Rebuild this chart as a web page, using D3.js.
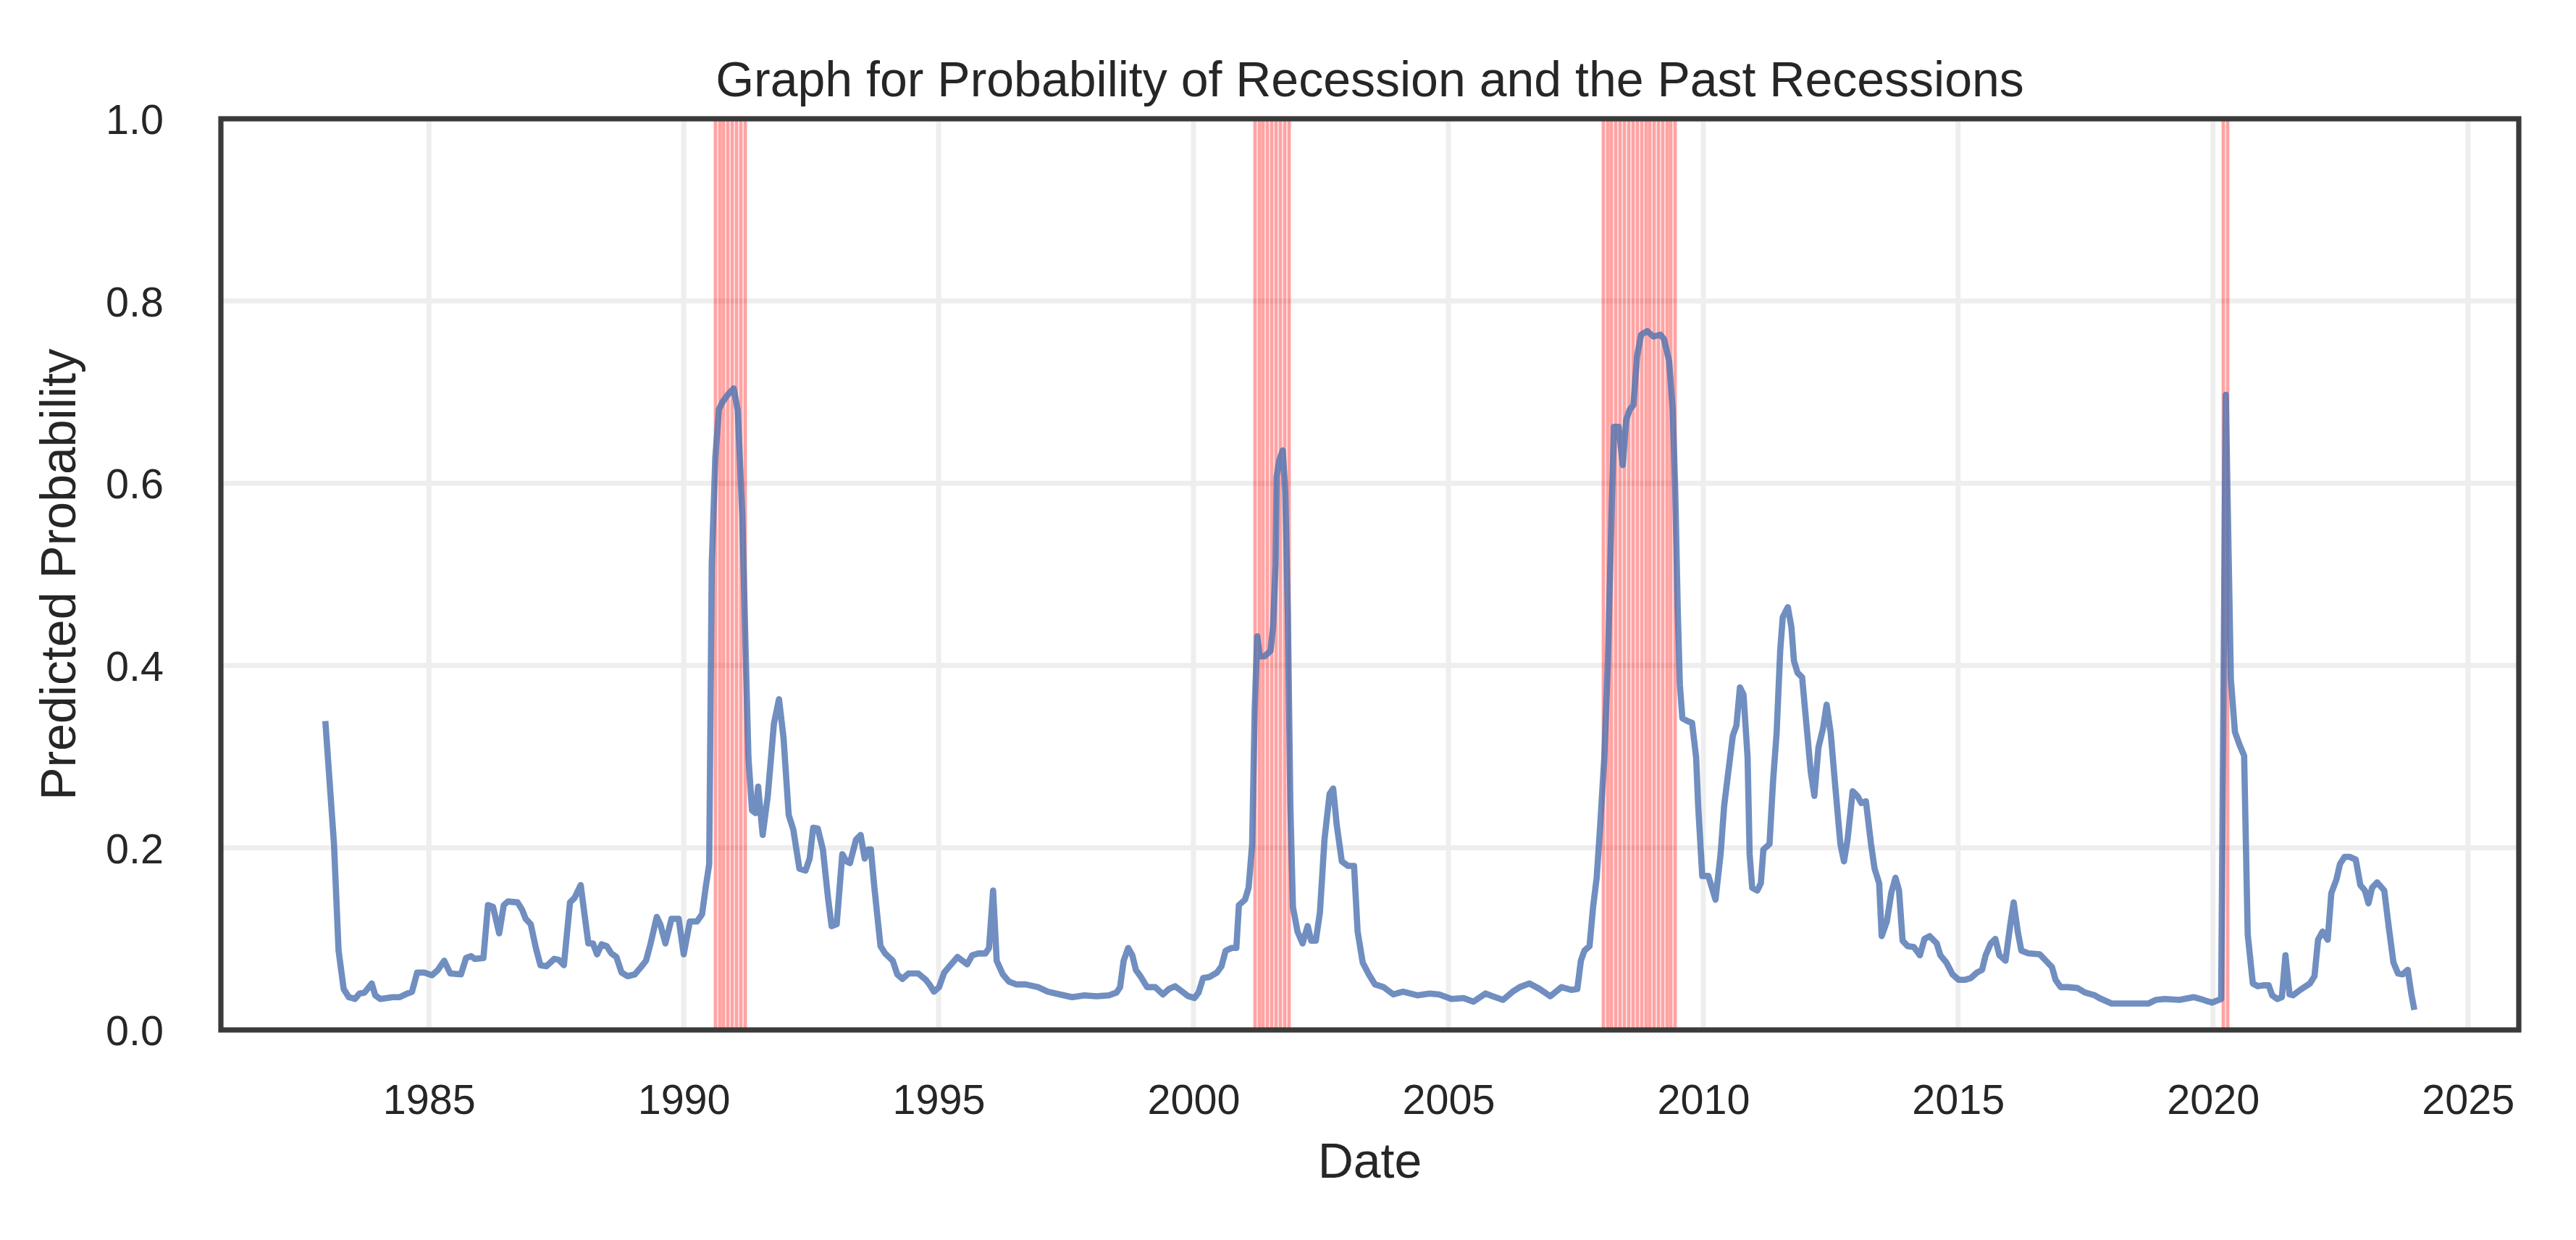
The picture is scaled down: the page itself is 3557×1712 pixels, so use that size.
<!DOCTYPE html>
<html>
<head>
<meta charset="utf-8">
<script src="https://cdn.jsdelivr.net/npm/d3@7"></script>
<style>
  html, body { margin: 0; padding: 0; background: #ffffff; }
  svg { display: block; }
  text { font-family: "Liberation Sans", Arial, Helvetica, sans-serif; fill: #262626; }
</style>
</head>
<body>
<svg id="chart" width="3557" height="1712"></svg>
<script>
// ---------------- DATA ----------------
// Decimal years (time) of the predicted-probability series
const probYears = [
  1982.97,1983.14,1983.23,1983.33,1983.43,1983.55,1983.64,1983.74,1983.88,1983.95,
  1984.05,1984.29,1984.43,1984.58,1984.67,1984.77,1984.91,1985.06,1985.18,1985.30,
  1985.42,1985.63,1985.73,1985.83,1985.90,1986.07,1986.16,1986.26,1986.38,1986.47,
  1986.55,1986.74,1986.83,1986.90,1987.00,1987.10,1987.19,1987.31,1987.46,1987.55,
  1987.65,1987.77,1987.86,1987.98,1988.08,1988.13,1988.22,1988.30,1988.39,1988.49,
  1988.58,1988.68,1988.78,1988.90,1989.04,1989.16,1989.26,1989.35,1989.47,1989.54,
  1989.64,1989.76,1989.90,1990.00,1990.12,1990.26,1990.36,1990.43,1990.50,1990.55,
  1990.62,1990.69,1990.76,1990.86,1990.98,1991.06,1991.15,1991.22,1991.27,1991.34,
  1991.41,1991.46,1991.55,1991.65,1991.77,1991.87,1991.96,1992.06,1992.15,1992.27,
  1992.39,1992.47,1992.54,1992.63,1992.73,1992.83,1992.90,1993.00,1993.11,1993.19,
  1993.26,1993.38,1993.47,1993.55,1993.62,1993.67,1993.74,1993.86,1993.95,1994.10,
  1994.19,1994.29,1994.41,1994.60,1994.75,1994.82,1994.91,1995.01,1995.11,1995.23,
  1995.37,1995.47,1995.56,1995.66,1995.78,1995.92,1995.99,1996.07,1996.14,1996.26,
  1996.38,1996.52,1996.71,1996.95,1997.14,1997.38,1997.62,1997.86,1998.10,1998.34,
  1998.49,1998.56,1998.63,1998.72,1998.80,1998.87,1998.97,1999.09,1999.25,1999.40,
  1999.52,1999.64,1999.78,1999.90,2000.02,2000.10,2000.19,2000.31,2000.46,2000.55,
  2000.63,2000.75,2000.84,2000.89,2001.01,2001.08,2001.15,2001.20,2001.25,2001.30,
  2001.39,2001.51,2001.56,2001.61,2001.63,2001.68,2001.75,2001.80,2001.85,2001.90,
  2001.95,2002.04,2002.14,2002.24,2002.31,2002.40,2002.48,2002.57,2002.67,2002.74,
  2002.81,2002.91,2003.03,2003.15,2003.22,2003.32,2003.44,2003.56,2003.73,2003.92,
  2004.11,2004.39,2004.63,2004.82,2005.06,2005.30,2005.49,2005.73,2005.87,2006.07,
  2006.26,2006.40,2006.59,2006.79,2007.00,2007.22,2007.41,2007.53,2007.60,2007.67,
  2007.77,2007.84,2007.91,2007.98,2008.06,2008.13,2008.20,2008.25,2008.34,2008.42,
  2008.49,2008.56,2008.63,2008.70,2008.78,2008.90,2009.02,2009.16,2009.23,2009.33,
  2009.40,2009.45,2009.50,2009.54,2009.59,2009.69,2009.78,2009.86,2009.90,2009.98,
  2010.10,2010.17,2010.24,2010.34,2010.41,2010.48,2010.58,2010.65,2010.72,2010.79,
  2010.87,2010.91,2010.96,2011.06,2011.13,2011.18,2011.30,2011.37,2011.44,2011.51,
  2011.56,2011.66,2011.73,2011.78,2011.85,2011.94,2012.04,2012.11,2012.18,2012.26,
  2012.35,2012.42,2012.50,2012.59,2012.69,2012.76,2012.83,2012.93,2013.02,2013.10,
  2013.19,2013.29,2013.36,2013.45,2013.50,2013.60,2013.69,2013.77,2013.84,2013.91,
  2014.01,2014.13,2014.25,2014.34,2014.44,2014.58,2014.65,2014.77,2014.89,2015.01,
  2015.13,2015.25,2015.37,2015.47,2015.54,2015.64,2015.73,2015.81,2015.93,2016.02,
  2016.09,2016.17,2016.24,2016.38,2016.60,2016.72,2016.84,2016.91,2017.01,2017.15,
  2017.34,2017.49,2017.68,2017.77,2018.01,2018.21,2018.40,2018.59,2018.73,2018.88,
  2019.05,2019.34,2019.62,2019.81,2019.98,2020.16,2020.25,2020.35,2020.43,2020.52,
  2020.61,2020.68,2020.78,2020.88,2021.00,2021.09,2021.16,2021.26,2021.35,2021.42,
  2021.50,2021.57,2021.71,2021.90,2021.99,2022.06,2022.15,2022.25,2022.32,2022.42,
  2022.49,2022.58,2022.68,2022.80,2022.89,2022.98,2023.05,2023.12,2023.22,2023.36,
  2023.45,2023.54,2023.63,2023.72,2023.82,2023.89,2023.95
];
// Predicted probability of recession
const probValues = [
  0.339,0.204,0.087,0.045,0.036,0.034,0.040,0.041,0.051,0.038,
  0.034,0.036,0.036,0.040,0.042,0.063,0.063,0.060,0.066,0.076,
  0.062,0.061,0.079,0.081,0.078,0.079,0.137,0.135,0.106,0.137,
  0.141,0.140,0.132,0.122,0.116,0.090,0.071,0.070,0.078,0.077,
  0.071,0.140,0.145,0.159,0.116,0.095,0.095,0.083,0.094,0.092,
  0.084,0.080,0.063,0.059,0.061,0.069,0.076,0.095,0.124,0.116,
  0.095,0.122,0.122,0.083,0.119,0.119,0.127,0.156,0.182,0.511,
  0.628,0.681,0.689,0.697,0.704,0.680,0.564,0.405,0.299,0.241,
  0.238,0.267,0.214,0.257,0.336,0.363,0.320,0.236,0.220,0.177,
  0.175,0.188,0.222,0.221,0.198,0.145,0.114,0.116,0.193,0.185,
  0.183,0.209,0.214,0.188,0.198,0.198,0.156,0.092,0.084,0.076,
  0.061,0.056,0.062,0.062,0.055,0.050,0.042,0.047,0.063,0.071,
  0.080,0.076,0.072,0.082,0.084,0.084,0.090,0.153,0.076,0.061,
  0.053,0.050,0.050,0.047,0.042,0.039,0.036,0.038,0.037,0.038,
  0.041,0.047,0.076,0.090,0.082,0.066,0.058,0.047,0.047,0.039,
  0.045,0.048,0.042,0.037,0.035,0.041,0.057,0.058,0.063,0.070,
  0.087,0.090,0.090,0.137,0.143,0.156,0.204,0.352,0.432,0.410,
  0.410,0.416,0.442,0.511,0.607,0.625,0.636,0.591,0.458,0.246,
  0.135,0.108,0.095,0.114,0.098,0.098,0.129,0.209,0.259,0.265,
  0.225,0.185,0.180,0.180,0.108,0.074,0.061,0.050,0.047,0.039,
  0.042,0.038,0.040,0.039,0.034,0.035,0.031,0.040,0.037,0.033,
  0.042,0.047,0.051,0.045,0.037,0.047,0.044,0.045,0.076,0.087,
  0.092,0.135,0.167,0.225,0.299,0.405,0.564,0.662,0.662,0.620,
  0.670,0.681,0.686,0.739,0.763,0.767,0.761,0.763,0.758,0.734,
  0.681,0.591,0.458,0.379,0.342,0.339,0.337,0.299,0.246,0.169,
  0.169,0.156,0.143,0.193,0.246,0.278,0.323,0.334,0.376,0.368,
  0.299,0.193,0.156,0.153,0.161,0.198,0.204,0.273,0.326,0.416,
  0.453,0.464,0.442,0.405,0.392,0.387,0.326,0.283,0.257,0.310,
  0.331,0.357,0.326,0.267,0.204,0.185,0.209,0.262,0.257,0.249,
  0.251,0.204,0.177,0.161,0.103,0.119,0.151,0.167,0.153,0.098,
  0.092,0.091,0.082,0.100,0.103,0.095,0.082,0.074,0.061,0.055,
  0.055,0.057,0.063,0.066,0.082,0.095,0.100,0.082,0.076,0.114,
  0.140,0.108,0.087,0.084,0.083,0.076,0.069,0.055,0.047,0.047,
  0.046,0.041,0.038,0.035,0.029,0.029,0.029,0.029,0.029,0.033,
  0.034,0.033,0.036,0.033,0.030,0.034,0.697,0.385,0.327,0.313,
  0.301,0.105,0.051,0.048,0.049,0.049,0.038,0.034,0.036,0.082,
  0.039,0.038,0.044,0.051,0.059,0.099,0.108,0.099,0.150,0.165,
  0.182,0.190,0.190,0.187,0.159,0.153,0.139,0.156,0.162,0.153,
  0.112,0.074,0.062,0.061,0.066,0.040,0.022
];
// NBER recession months (one vertical line per month)
const recessionMonths = [
  "1990-08","1990-09","1990-10","1990-11","1990-12","1991-01","1991-02","1991-03",
  "2001-03","2001-04","2001-05","2001-06","2001-07","2001-08","2001-09","2001-10","2001-11",
  "2008-01","2008-02","2008-03","2008-04","2008-05","2008-06","2008-07","2008-08","2008-09",
  "2008-10","2008-11","2008-12","2009-01","2009-02","2009-03","2009-04","2009-05","2009-06",
  "2020-03","2020-04"
];
const yTickValues = [0.0, 0.2, 0.4, 0.6, 0.8, 1.0];
const xTickYears = [1985, 1990, 1995, 2000, 2005, 2010, 2015, 2020, 2025];
const titleText = "Graph for Probability of Recession and the Past Recessions";
const xLabelText = "Date";
const yLabelText = "Predicted Probability";

// ---------------- HELPERS ----------------
function yearToDate(y) {
  const yi = Math.floor(y);
  const a = Date.UTC(yi, 0, 1), b = Date.UTC(yi + 1, 0, 1);
  return new Date(a + (y - yi) * (b - a));
}
const parseMonth = d3.utcParse("%Y-%m");

const series = probYears.map((y, i) => ({ date: yearToDate(y), value: probValues[i] }));

// ---------------- LAYOUT ----------------
const W = 3557, H = 1712;
const plot = { left: 305, right: 3478, top: 164, bottom: 1422 };
const tickFont = 57.5, labelFont = 68;

const svg = d3.select("#chart");
svg.append("rect").attr("width", W).attr("height", H).attr("fill", "#ffffff");

// x domain: data extent padded 5% each side (matplotlib default margins)
const ext = d3.extent(series, d => +d.date);
const pad = (ext[1] - ext[0]) * 0.05;
const x = d3.scaleUtc()
  .domain([new Date(ext[0] - pad), new Date(ext[1] + pad)])
  .range([plot.left, plot.right]);
const y = d3.scaleLinear().domain([0, 1]).range([plot.bottom, plot.top]);

// clip
svg.append("defs").append("clipPath").attr("id", "clip")
  .append("rect")
  .attr("x", plot.left).attr("y", plot.top)
  .attr("width", plot.right - plot.left).attr("height", plot.bottom - plot.top);

const gPlot = svg.append("g").attr("clip-path", "url(#clip)");

// grid
const xTicks = xTickYears.map(yr => new Date(Date.UTC(yr, 0, 1)));
gPlot.append("g").selectAll("line.vg").data(xTicks).join("line")
  .attr("x1", d => x(d)).attr("x2", d => x(d))
  .attr("y1", plot.top).attr("y2", plot.bottom)
  .attr("stroke", "#eeeeee").attr("stroke-width", 7);
gPlot.append("g").selectAll("line.hg").data(yTickValues).join("line")
  .attr("x1", plot.left).attr("x2", plot.right)
  .attr("y1", d => y(d)).attr("y2", d => y(d))
  .attr("stroke", "#eeeeee").attr("stroke-width", 7);

// recession lines (mid-month)
gPlot.append("g").selectAll("line.rec").data(recessionMonths).join("line")
  .attr("x1", d => Math.round(x(d3.utcDay.offset(parseMonth(d), 14))))
  .attr("x2", d => Math.round(x(d3.utcDay.offset(parseMonth(d), 14))))
  .attr("y1", plot.top).attr("y2", plot.bottom)
  .attr("stroke", "#ff0000").attr("stroke-opacity", 0.36).attr("stroke-width", 4.8);

// probability line
const line = d3.line().x(d => x(d.date)).y(d => y(d.value)).curve(d3.curveLinear);
gPlot.append("path").datum(series)
  .attr("d", line)
  .attr("fill", "none")
  .attr("stroke", "#4c72b0").attr("stroke-opacity", 0.8)
  .attr("stroke-width", 8.6)
  .attr("stroke-linejoin", "round").attr("stroke-linecap", "butt");

// axes
const xAxis = d3.axisBottom(x).tickValues(xTicks).tickFormat(d3.utcFormat("%Y")).tickSize(0).tickPadding(0);
const gx = svg.append("g").attr("transform", `translate(0,${plot.bottom})`).call(xAxis);
gx.select(".domain").remove();
gx.selectAll("text")
  .attr("y", 116).attr("dy", null)
  .style("font-size", tickFont + "px")
  .style("font-family", '"Liberation Sans", Arial, sans-serif')
  .attr("fill", "#262626");

const yAxis = d3.axisLeft(y).tickValues(yTickValues).tickFormat(d3.format(".1f")).tickSize(0).tickPadding(0);
const gy = svg.append("g").attr("transform", `translate(${plot.left},0)`).call(yAxis);
gy.select(".domain").remove();
gy.selectAll("text")
  .attr("x", -(plot.left - 226)).attr("dy", null).attr("y", tickFont * 0.36)
  .style("font-size", tickFont + "px")
  .style("font-family", '"Liberation Sans", Arial, sans-serif')
  .attr("fill", "#262626");

// frame (spines)
svg.append("rect")
  .attr("x", plot.left).attr("y", plot.top)
  .attr("width", plot.right - plot.left).attr("height", plot.bottom - plot.top)
  .attr("fill", "none").attr("stroke", "#3a3a3a").attr("stroke-width", 7.2);

// title & labels
const cx = (plot.left + plot.right) / 2;
svg.append("text").attr("x", cx).attr("y", 133)
  .attr("text-anchor", "middle").style("font-size", labelFont + "px").text(titleText);
svg.append("text").attr("x", cx).attr("y", 1626)
  .attr("text-anchor", "middle").style("font-size", labelFont + "px").text(xLabelText);
svg.append("text")
  .attr("transform", `translate(104,${(plot.top + plot.bottom) / 2}) rotate(-90)`)
  .attr("text-anchor", "middle").style("font-size", labelFont + "px").text(yLabelText);
</script>
</body>
</html>
